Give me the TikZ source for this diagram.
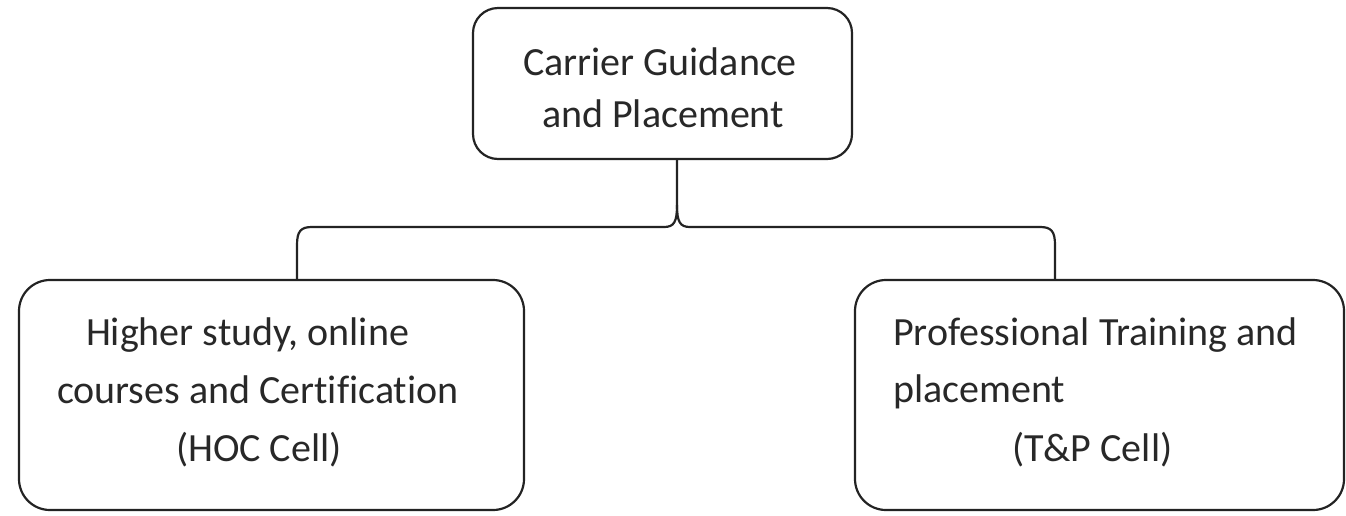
\documentclass[tikz,border=0pt]{standalone}
\usepackage{fontspec}
\setmainfont[RawFeature={-liga}]{Carlito}
\begin{document}
\begin{tikzpicture}[x=1pt,y=-1pt,
  box/.style={draw=linec, line width=2.2pt, rounded corners=#1, inner sep=0pt, outer sep=0pt},
  box/.default=31pt,
  lbl/.style={anchor=base west, inner sep=0pt, outer sep=0pt, text=textc, font=\fontsize{40}{48}\selectfont},
  conn/.style={draw=linec, line width=2.2pt}]
\definecolor{linec}{RGB}{35,35,35}
\definecolor{textc}{RGB}{40,40,40}
\useasboundingbox (0,0) rectangle (1346,515);
% boxes
\node[box=25pt, minimum width=379pt, minimum height=151pt] (top) at (662.5,83.5) {};
\node[box, minimum width=505pt, minimum height=230pt] (hoc) at (271.5,395) {};
\node[box, minimum width=489pt, minimum height=230pt] (tp) at (1099.5,395) {};
% texts
\node[lbl] (t1) at (523,75) {Carrier Guidance};
\node[lbl] (t2) at (542,127) {and Placement};
\node[lbl] (h1) at (86,345) {Higher study, online};
\node[lbl] (h2) at (57,403) {courses and Certification};
\node[lbl] (h3) at (176,461) {(HOC Cell)};
\node[lbl] (p1) at (893,345) {Professional Training and};
\node[lbl] (p2) at (893,402) {placement};
\node[lbl] (p3) at (1012,461) {(T\&P Cell)};
% brace connector
\coordinate (j) at (677,205);
\coordinate (lx) at (297,0);
\coordinate (rx) at (1055,0);
\draw[conn] (top.south -| j) -- (j)
  .. controls (677,222) and (674,227) .. (664,227) -- (312,227)
  .. controls (301,227) and (297,231) .. (297,245) -- (hoc.north -| lx);
\draw[conn] (j)
  .. controls (677,222) and (680,227) .. (690,227) -- (1040,227)
  .. controls (1051,227) and (1055,231) .. (1055,245) -- (tp.north -| rx);
\end{tikzpicture}
\end{document}
